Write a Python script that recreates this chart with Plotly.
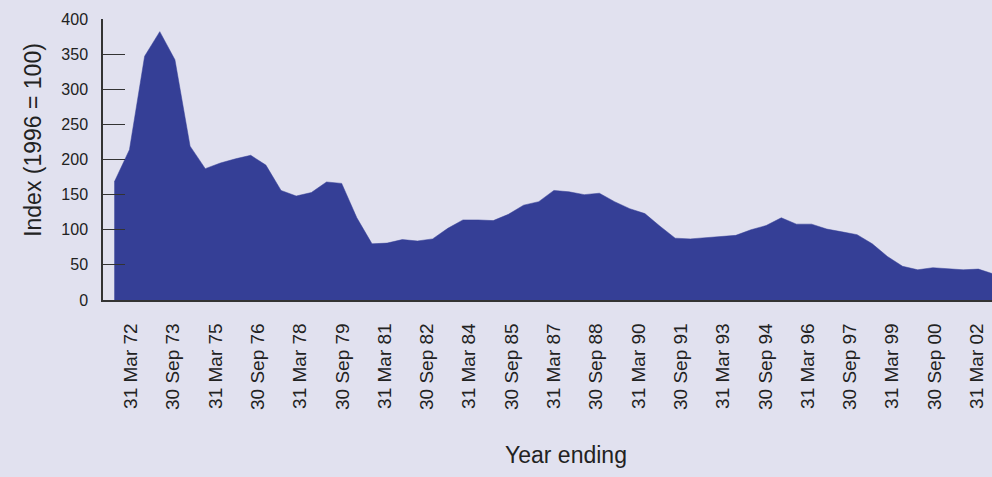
import plotly.graph_objects as go

# half-yearly index values (1996 = 100)
index_values = [
    168, 214, 347, 382, 342, 219, 187, 195, 201, 206,
    192, 156, 148, 153, 168, 166, 117, 80, 81, 86,
    84, 87, 102, 114, 114, 113, 122, 135, 140, 156,
    154, 150, 152, 140, 130, 123, 105, 88, 87, 89,
    90, 92, 100, 106, 117, 108, 108, 101, 97, 93,
    80, 62, 48, 43, 46, 45, 43, 44, 37,
]
periods = list(range(len(index_values)))

tick_labels = [
    "31 Mar 72", "30 Sep 73", "31 Mar 75", "30 Sep 76", "31 Mar 78",
    "30 Sep 79", "31 Mar 81", "30 Sep 82", "31 Mar 84", "30 Sep 85",
    "31 Mar 87", "30 Sep 88", "31 Mar 90", "30 Sep 91", "31 Mar 93",
    "30 Sep 94", "31 Mar 96", "30 Sep 97", "31 Mar 99", "30 Sep 00",
    "31 Mar 02",
]
y_ticks = [0, 50, 100, 150, 200, 250, 300, 350, 400]

# label spacing in the original does not line up exactly with the data points
tick_start = 1.10
tick_step = 2.79
tick_pos = [tick_start + tick_step * i for i in range(len(tick_labels))]

BG = "#E1E1EF"
FILL = "#353F96"
INK = "#222222"

fig = go.Figure()
fig.add_trace(go.Scatter(
    x=periods, y=index_values, mode="lines", fill="tozeroy",
    fillcolor=FILL, line=dict(color=FILL, width=0.5), hoverinfo="skip",
))

fig.update_layout(
    width=992, height=477,
    margin=dict(l=103, r=0, t=19, b=177),
    paper_bgcolor=BG, plot_bgcolor=BG,
    showlegend=False,
    font=dict(family="Liberation Sans, Arial, sans-serif", color=INK),
    xaxis=dict(
        range=[-0.745, 57.9], tickmode="array", tickvals=tick_pos, ticktext=tick_labels,
        tickangle=-90, ticks="", ticklabelstandoff=14, tickfont=dict(size=19),
        showgrid=False, zeroline=False, showline=True, linecolor="#333333", linewidth=1.5,
    ),
    yaxis=dict(
        range=[0, 400], tickmode="array", tickvals=y_ticks,
        ticks="inside", ticklen=22, tickwidth=1.2, tickcolor="#333333",
        ticklabelstandoff=10, tickfont=dict(size=16),
        showgrid=False, zeroline=False, showline=True, linecolor="#333333", linewidth=1.5,
    ),
    annotations=[
        dict(text="Year ending", x=0.521, y=-0.552, xref="paper", yref="paper",
             showarrow=False, font=dict(size=23, color=INK), xanchor="center", yanchor="middle"),
        dict(text="Index (1996 = 100)", x=-0.0787, y=0.57, xref="paper", yref="paper",
             showarrow=False, textangle=-90, font=dict(size=23, color=INK),
             xanchor="center", yanchor="middle"),
    ],
)

# page body has a default 8px margin; drop it so the figure fills the window
fig.write_html("out.html", config={"displayModeBar": False},
               post_script="document.body.style.margin='0';")
